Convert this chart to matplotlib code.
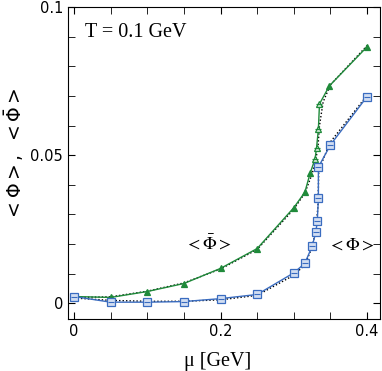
import matplotlib
matplotlib.use("Agg")
import matplotlib.pyplot as plt
import numpy as np
from matplotlib.ticker import MultipleLocator, FixedLocator

# Phi-bar (green triangles)
mu_g = [0.0, 0.05, 0.1, 0.15, 0.2, 0.25, 0.3, 0.315, 0.3225, 0.329, 0.331, 0.3335, 0.335, 0.3485, 0.4]
phib = [0.0023, 0.0020, 0.0040, 0.0067, 0.0118, 0.0185, 0.0323, 0.0375, 0.0441, 0.0488, 0.0525, 0.0588, 0.0673, 0.0734, 0.0866]
open_g = [False, False, False, False, False, False, False, False, False, True, True, True, True, False, False]

# Phi (blue squares)
mu_b = [0.0, 0.05, 0.1, 0.15, 0.2, 0.25, 0.3, 0.315, 0.325, 0.33, 0.332, 0.3335, 0.3335, 0.35, 0.4]
phi = [0.0023, 0.0004, 0.0004, 0.0006, 0.0016, 0.0030, 0.0103, 0.0135, 0.0193, 0.0240, 0.0277, 0.0354, 0.0460, 0.0535, 0.0698]

# dotted reference curves
mu_gd = [0.0, 0.05, 0.1, 0.15, 0.2, 0.25, 0.3, 0.315, 0.325, 0.33, 0.333, 0.335, 0.34, 0.35, 0.4]
phib_d = [0.0020, 0.0022, 0.0041, 0.0069, 0.0116, 0.0182, 0.0318, 0.0372, 0.0437, 0.0485, 0.0530, 0.0600, 0.0680, 0.0738, 0.0870]
mu_bd = [0.0, 0.05, 0.1, 0.15, 0.2, 0.25, 0.3, 0.315, 0.325, 0.33, 0.333, 0.334, 0.35, 0.4]
phi_d = [0.0018, 0.0010, 0.0007, 0.0007, 0.0012, 0.0027, 0.0095, 0.0130, 0.0190, 0.0250, 0.0330, 0.0450, 0.0545, 0.0702]

green = '#1f8a3a'
blue = '#3a6cc0'

fig = plt.figure(figsize=(3.82, 3.71), dpi=100)
ax = fig.add_axes([0.178, 0.140, 0.817, 0.841])

ax.plot(mu_gd, phib_d, color='black', ls=(0, (1, 1.5)), lw=1.0, zorder=2)
ax.plot(mu_bd, phi_d, color='black', ls=(0, (1, 1.5)), lw=1.0, zorder=2)

ax.plot(mu_g, phib, color=green, lw=1.0, zorder=3)
for x, y, o in zip(mu_g, phib, open_g):
    ax.plot(x, y, marker='^', ms=5, mec=green, mfc='#cfe8d4' if o else green, mew=0.9, zorder=4)
    if o:
        ax.plot(x, y, marker='_', ms=4, color=green, mew=0.8, zorder=5)

ax.plot(mu_b, phi, color=blue, lw=1.0, zorder=3)
ax.plot(mu_b, phi, ls='none', marker='s', ms=6, mec=blue, mfc='#d2def2', mew=0.9, zorder=4)
ax.plot(mu_b, phi, ls='none', marker='_', ms=4.5, color=blue, mew=0.8, zorder=5)

ax.set_xlim(-0.0082, 0.4177)
ax.set_ylim(-0.0053, 0.1)

ax.xaxis.set_major_locator(FixedLocator([0, 0.2, 0.4]))
ax.xaxis.set_minor_locator(FixedLocator([0.05, 0.1, 0.15, 0.25, 0.3, 0.35]))
ax.yaxis.set_major_locator(FixedLocator([0, 0.05, 0.1]))
ax.yaxis.set_minor_locator(MultipleLocator(0.01))
ax.set_xticklabels(['0', '0.2', '0.4'])
ax.set_yticklabels(['0', '0.05', '0.1'])
ax.tick_params(which='both', direction='in', top=True, right=True, labelsize=10.5)
ax.tick_params(which='major', length=5)
ax.tick_params(which='minor', length=5)

ax.text(0.015, 0.0945, 'T = 0.1 GeV', family='Liberation Serif', fontsize=14.5, va='top')
ax.text(0.183, 0.020, r'$<\bar{\Phi}>$', fontsize=13, ha='center', va='center', math_fontfamily='stix')
ax.text(0.379, 0.020, r'$<\Phi>$', fontsize=13, ha='center', va='center', math_fontfamily='stix')

ax.set_xlabel('μ [GeV]', family='Liberation Serif', fontsize=14.5)
ax.xaxis.set_label_coords(0.48, -0.105)
ax.set_ylabel(r'$<\Phi>,\ <\bar{\Phi}>$', fontsize=13.5, math_fontfamily='dejavusans')
ax.yaxis.set_label_coords(-0.135, 0.53)

fig.savefig('out.png', dpi=100)
